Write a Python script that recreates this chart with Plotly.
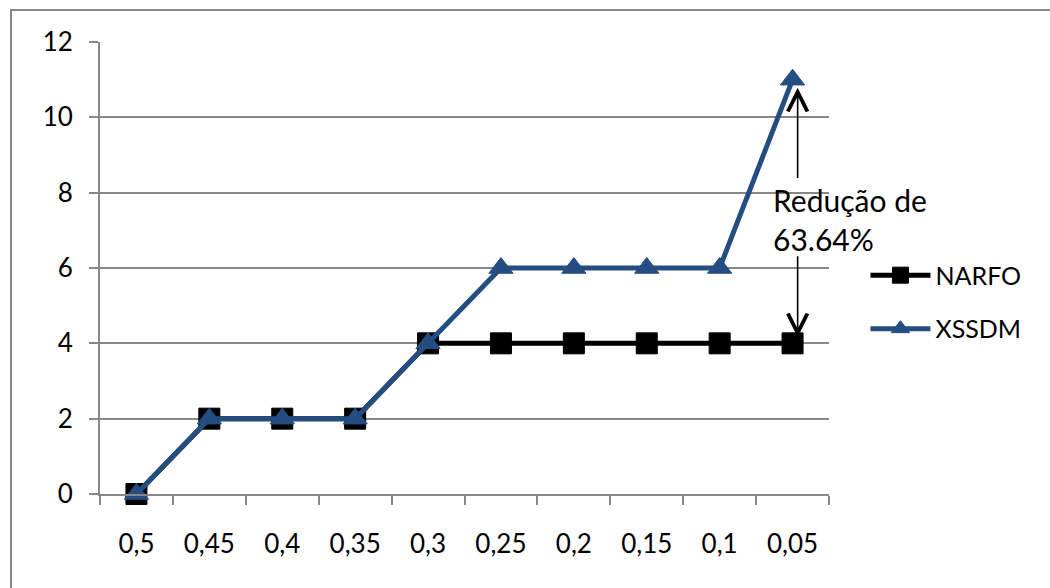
import plotly.graph_objects as go

# Threshold values on the horizontal axis
thresholds = ["0,5", "0,45", "0,4", "0,35", "0,3", "0,25", "0,2", "0,15", "0,1", "0,05"]
narfo = [0, 2, 2, 2, 4, 4, 4, 4, 4, 4]
xssdm = [0, 2, 2, 2, 4, 6, 6, 6, 6, 11]
y_ticks = [0, 2, 4, 6, 8, 10, 12]

FONT = "Lato"
GRAY = "#878787"
BLUE = "#244D82"

fig = go.Figure()

fig.add_trace(go.Scatter(
    x=thresholds, y=narfo, name="NARFO", mode="lines+markers",
    line=dict(color="black", width=5),
    marker=dict(symbol="square", size=21, color="black", line=dict(color="black", width=1)),
    cliponaxis=False, legendgroup="a",
))
fig.add_trace(go.Scatter(
    x=thresholds, y=xssdm, name="XSSDM", mode="lines+markers",
    line=dict(color=BLUE, width=5),
    marker=dict(symbol="triangle-up", size=21, color=BLUE, line=dict(color=BLUE, width=1)),
    cliponaxis=False, legendgroup="b",
))

# Double arrow showing the gap between the two methods at the last threshold
last = len(thresholds) - 1
fig.add_annotation(
    x=last + 0.07, y=xssdm[-1], ax=last + 0.07, ay=8.35, xref="x", yref="y",
    axref="x", ayref="y", text="", showarrow=True, arrowhead=5, arrowsize=2.4,
    arrowwidth=1.6, arrowcolor="black", standoff=8,
)
fig.add_annotation(
    x=last + 0.07, y=narfo[-1], ax=last + 0.07, ay=6.35, xref="x", yref="y",
    axref="x", ayref="y", text="", showarrow=True, arrowhead=5, arrowsize=2.4,
    arrowwidth=1.6, arrowcolor="black", standoff=6,
)
fig.add_annotation(
    x=last, y=7.28, xref="x", yref="y", xanchor="left", yanchor="middle",
    xshift=-22, text="Redução de<br>63.64%", showarrow=False, align="left",
    font=dict(family=FONT, size=30, color="black"),
)

# Chart-area border
fig.add_shape(type="rect", xref="paper", yref="paper",
              x0=-0.1221, x1=1.4, y0=-0.3, y1=1.0708,
              line=dict(color=GRAY, width=2), fillcolor="rgba(0,0,0,0)", layer="below")

fig.update_layout(
    width=1050, height=588,
    margin=dict(l=100, r=221, t=42, b=94),
    paper_bgcolor="white", plot_bgcolor="white",
    font=dict(family=FONT, size=26, color="black"),
    showlegend=True,
    legend=dict(
        x=1.05, y=0.425, xanchor="left", yanchor="middle",
        font=dict(family=FONT, size=25, color="black"),
        tracegroupgap=18, itemwidth=60, bgcolor="rgba(0,0,0,0)",
    ),
    xaxis=dict(
        type="category", range=[-0.5, len(thresholds) - 0.5],
        showgrid=False, showline=True, linecolor=GRAY, linewidth=2,
        ticks="outside", tickson="boundaries", ticklen=9, tickcolor=GRAY, tickwidth=2,
        ticklabelstandoff=26, zeroline=False,
        tickfont=dict(family=FONT, size=26, color="black"),
    ),
    yaxis=dict(
        range=[0, 12], tickvals=y_ticks, showgrid=True, gridcolor=GRAY, gridwidth=2,
        showline=True, linecolor=GRAY, linewidth=2, zeroline=False,
        ticks="outside", ticklen=9, tickcolor=GRAY, tickwidth=2,
        ticklabelstandoff=11,
        tickfont=dict(family=FONT, size=26, color="black"),
    ),
)

fig.write_html("out.html")
